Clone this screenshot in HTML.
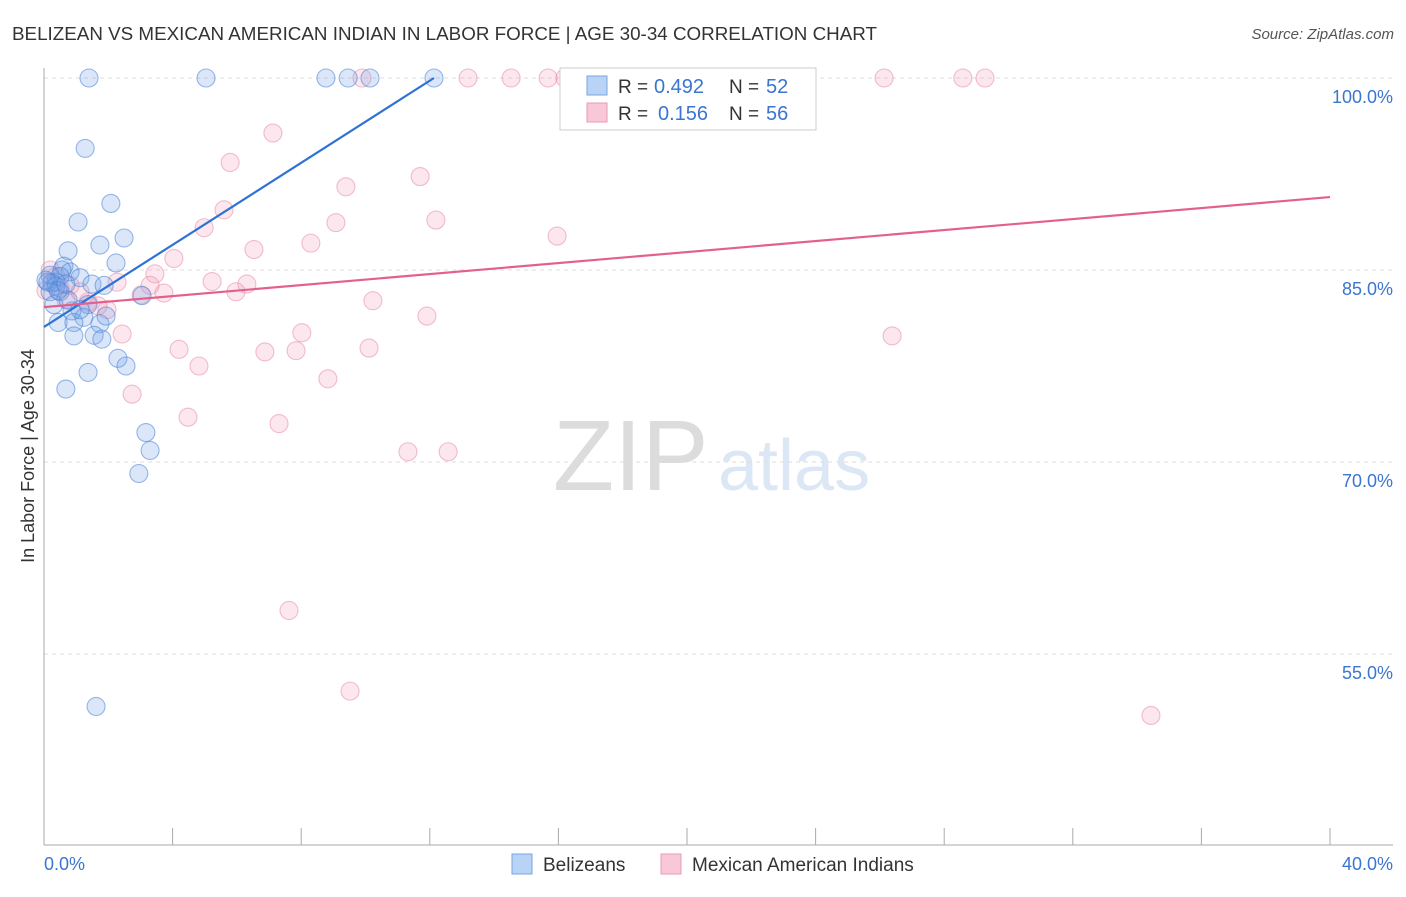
<!DOCTYPE html>
<html><head><meta charset="utf-8"><style>
body{margin:0;background:#fff;font-family:"Liberation Sans",sans-serif;}
svg text{font-family:"Liberation Sans",sans-serif;}
</style></head><body>
<svg id="chart" width="1406" height="892" xmlns="http://www.w3.org/2000/svg">
<text x="12" y="40" font-size="18" fill="#333" textLength="865" lengthAdjust="spacingAndGlyphs">BELIZEAN VS MEXICAN AMERICAN INDIAN IN LABOR FORCE | AGE 30-34 CORRELATION CHART</text>
<text x="1394" y="39" font-size="15" fill="#555" font-style="italic" text-anchor="end">Source: ZipAtlas.com</text>
<g>
<text x="553" y="490" font-size="100" fill="#dcdcdc" font-family="Liberation Serif, serif">ZIP</text>
<text x="718" y="490" font-size="72" fill="#dce7f6">atlas</text>
</g>
<g id="grid"></g>
<g id="axes"></g>
<g id="pts"></g>
<g id="lines"></g>
<text transform="translate(34,456) rotate(-90)" font-size="18" fill="#333" text-anchor="middle">In Labor Force | Age 30-34</text>
<g>
<rect x="560" y="68" width="256" height="62" fill="#fff" stroke="#ccc"/>
<rect x="587" y="76" width="20" height="19" fill="#b8d3f5" stroke="#7aa6e0"/>
<rect x="587" y="103" width="20" height="19" fill="#f9c8d8" stroke="#e89ab4"/>
<text x="618" y="93" font-size="19" fill="#333">R =</text>
<text x="654" y="93" font-size="20" fill="#3a75d0">0.492</text>
<text x="729" y="93" font-size="19" fill="#333">N =</text>
<text x="766" y="93" font-size="20" fill="#3a75d0">52</text>
<text x="618" y="120" font-size="19" fill="#333">R =</text>
<text x="658" y="120" font-size="20" fill="#3a75d0">0.156</text>
<text x="729" y="120" font-size="19" fill="#333">N =</text>
<text x="766" y="120" font-size="20" fill="#3a75d0">56</text>
</g>
<g>
<rect x="512" y="854" width="20" height="20" fill="#b8d3f5" stroke="#7aa6e0"/>
<text x="543" y="871" font-size="19" fill="#333">Belizeans</text>
<rect x="661" y="854" width="20" height="20" fill="#f9c8d8" stroke="#e89ab4"/>
<text x="692" y="871" font-size="19" fill="#333">Mexican American Indians</text>
</g>
<text x="44" y="870" font-size="18" fill="#3a75d0">0.0%</text>
<text x="1393" y="870" font-size="18" fill="#3a75d0" text-anchor="end">40.0%</text>
</svg>
<script>
const yTicks=[100,85,70,55];
const yTickLabels=["100.0%","85.0%","70.0%","55.0%"];
const xTicks=[4,8,12,16,20,24,28,32,36,40];
const blueX=[1.4,5.04,8.77,9.46,10.14,12.13,1.28,1.06,2.08,2.49,0.75,1.74,2.24,0.62,0.81,0.19,1.12,0.37,1.49,1.87,0.5,0.25,3.05,1.37,0.31,0.87,1.24,0.44,0.93,1.74,1.93,0.93,1.56,1.8,2.3,2.55,1.37,0.68,3.17,3.3,2.95,1.62,0.12,0.56,0.37,0.75,1.12,0.19,0.5,0.06,0.44,0.68];
const blueY=[100,100,100,100,100,100,94.5,88.75,90.2,87.5,86.5,86.95,85.55,85.3,84.85,84.6,84.4,84.05,83.9,83.8,83.3,84.0,83.0,82.3,82.3,81.8,81.3,80.9,80.9,80.8,81.4,79.85,79.9,79.6,78.1,77.5,77.0,75.7,72.3,70.9,69.1,50.9,84.05,85.0,83.75,82.65,81.9,83.3,84.5,84.2,83.4,83.9];
const pinkX=[13.19,14.53,15.68,16.2,9.89,19.69,26.13,28.58,29.27,7.12,5.79,9.39,11.7,5.6,12.19,9.08,4.98,8.3,6.53,15.96,4.04,3.45,5.23,6.31,2.27,5.97,3.73,3.02,10.23,3.3,11.91,1.96,1.37,0.68,2.43,8.02,26.38,4.2,6.87,7.84,10.11,4.82,8.83,2.74,4.48,7.31,11.32,12.57,7.62,9.52,34.43,0.19,0.06,0.5,1.68,0.81,0.37,1.12];
const pinkY=[100,100,100,100,100,100,100,100,100,95.7,93.4,91.5,92.3,89.7,88.9,88.7,88.3,87.1,86.6,87.65,85.9,84.7,84.1,83.9,84.05,83.3,83.2,83.05,82.6,83.8,81.4,81.9,82.5,82.7,80.0,80.1,79.85,78.8,78.6,78.7,78.9,77.5,76.5,75.3,73.5,73.0,70.8,70.8,58.4,52.1,50.2,85.0,83.4,83.6,82.2,83.8,84.5,83.3];
const blueTrend=[[0,80.55],[12.13,100]];
const pinkTrend=[[0,82.1],[40,90.7]];
const NS="http://www.w3.org/2000/svg";
const X=v=>44+v*32.15;
const Y=v=>78+(100-v)*12.8;
function mk(tag,attrs,parent){const e=document.createElementNS(NS,tag);for(const k in attrs)e.setAttribute(k,attrs[k]);parent.appendChild(e);return e;}
const grid=document.getElementById('grid'),axes=document.getElementById('axes'),pts=document.getElementById('pts'),lines=document.getElementById('lines');
yTicks.forEach((t,i)=>{
 const l=mk('line',{x1:44,x2:1393,y1:Y(t),y2:Y(t),stroke:'#ddd','stroke-dasharray':'4,4'},grid);
 
 
 const tx=mk('text',{x:1393,y:Y(t)+25,'font-size':18,fill:'#3a75d0','text-anchor':'end'},grid);
 tx.textContent=yTickLabels[i];
 
 
});
mk('line',{x1:44,x2:44,y1:68,y2:845,stroke:'#aaa'},axes);
mk('line',{x1:44,x2:1393,y1:845,y2:845,stroke:'#aaa'},axes);
xTicks.forEach(t=>{
 const l=mk('line',{x1:X(t),x2:X(t),y1:828,y2:845,stroke:'#aaa'},axes);
 
 
});
function dots(xs,ys,fill,stroke,name){xs.forEach((x,i)=>{
 const c=mk('circle',{cx:X(x),cy:Y(ys[i]),r:9,fill:fill,stroke:stroke,'stroke-width':1.1},pts);
 
 
});}
dots(pinkX,pinkY,'rgba(244,160,188,0.25)','rgba(230,130,160,0.5)','mexican-american-indian-point');
dots(blueX,blueY,'rgba(110,160,230,0.25)','rgba(70,130,215,0.55)','belizean-point');
const bl=mk('line',{x1:X(blueTrend[0][0]),y1:Y(blueTrend[0][1]),x2:X(blueTrend[1][0]),y2:Y(blueTrend[1][1]),stroke:'#2f72d6','stroke-width':2.2},lines);


const pl=mk('line',{x1:X(pinkTrend[0][0]),y1:Y(pinkTrend[0][1]),x2:X(pinkTrend[1][0]),y2:Y(pinkTrend[1][1]),stroke:'#e4608c','stroke-width':2.2},lines);


</script>
</body></html>
